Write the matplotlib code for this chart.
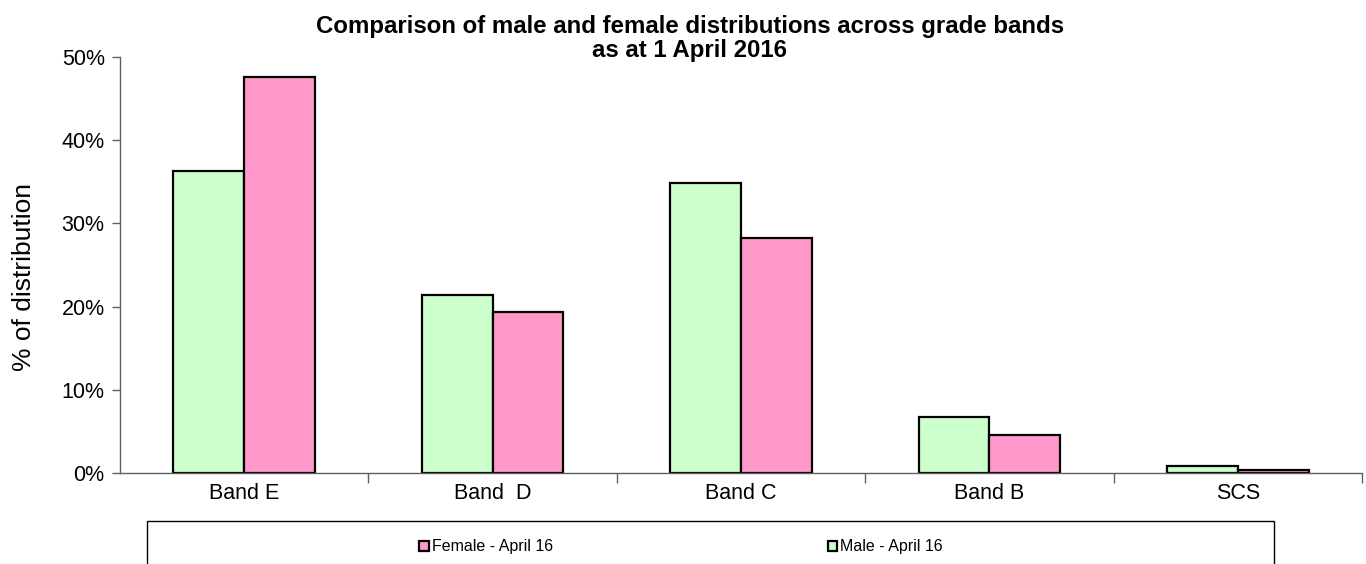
import numpy as np
import matplotlib.pyplot as plt
from matplotlib.patches import Rectangle
from matplotlib.ticker import FuncFormatter

plt.rcParams['font.family'] = ['Liberation Sans', 'DejaVu Sans']

bands = ['Band E', 'Band  D', 'Band C', 'Band B', 'SCS']
male = [36.3, 21.4, 34.9, 6.7, 0.9]
female = [47.6, 19.4, 28.2, 4.6, 0.4]

green = '#CCFFCC'
pink = '#FF99CC'
axis_col = '#606060'

fig = plt.figure(figsize=(13.66, 5.64), dpi=100)
ax = fig.add_axes([120/1366, 91/564, 1242/1366, 416/564])

x = np.arange(len(bands))
w = 0.285
ax.bar(x - w/2, male, w, color=green, edgecolor='black', linewidth=1.6,
       label='Male - April 16')
ax.bar(x + w/2, female, w, color=pink, edgecolor='black', linewidth=1.6,
       label='Female - April 16')

ax.set_xlim(-0.5, len(bands) - 0.5)
ax.set_ylim(0, 50)
ax.set_yticks(np.arange(0, 51, 10))
ax.yaxis.set_major_formatter(FuncFormatter(lambda v, _: f'{v:.0f}%'))

# category boundaries carry the tick marks, names sit at the centres
ax.set_xticks(np.arange(0.5, len(bands), 1))
ax.set_xticklabels([])
ax.set_xticks(x, minor=True)
ax.set_xticklabels(bands, minor=True)
ax.tick_params(axis='x', which='major', length=7, width=1, color=axis_col, direction='out')
ax.tick_params(axis='x', which='minor', length=0, labelsize=15.5, pad=7)
ax.tick_params(axis='y', length=6, width=1, color=axis_col, direction='out', labelsize=15.5, pad=5)

for side in ['top', 'right']:
    ax.spines[side].set_visible(False)
for side in ['left', 'bottom']:
    ax.spines[side].set_color(axis_col)
    ax.spines[side].set_linewidth(1)
ax.spines['bottom'].set_clip_on(False)

ax.set_ylabel('% of distribution', fontsize=19)
ax.yaxis.set_label_coords(-0.068, 0.47)

fig.suptitle('Comparison of male and female distributions across grade bands\nas at 1 April 2016',
             x=0.505, y=0.973, fontsize=17.3, fontweight='bold', linespacing=1.05)

# legend box, running off the bottom edge
fig.patches.append(Rectangle((147/1366, -0.05), 1127/1366, 0.05 + 43/564,
                             transform=fig.transFigure, facecolor='white',
                             edgecolor='black', linewidth=1, zorder=0))
handles, labels = ax.get_legend_handles_labels()
leg = fig.legend(handles[::-1], labels[::-1], loc='center', ncol=2,
                 bbox_to_anchor=(681/1366, 17/564), frameon=False,
                 fontsize=11.5, handlelength=0.6, handleheight=0.6,
                 handletextpad=0.2, columnspacing=17.2)

fig.savefig('out.png', dpi=100)
